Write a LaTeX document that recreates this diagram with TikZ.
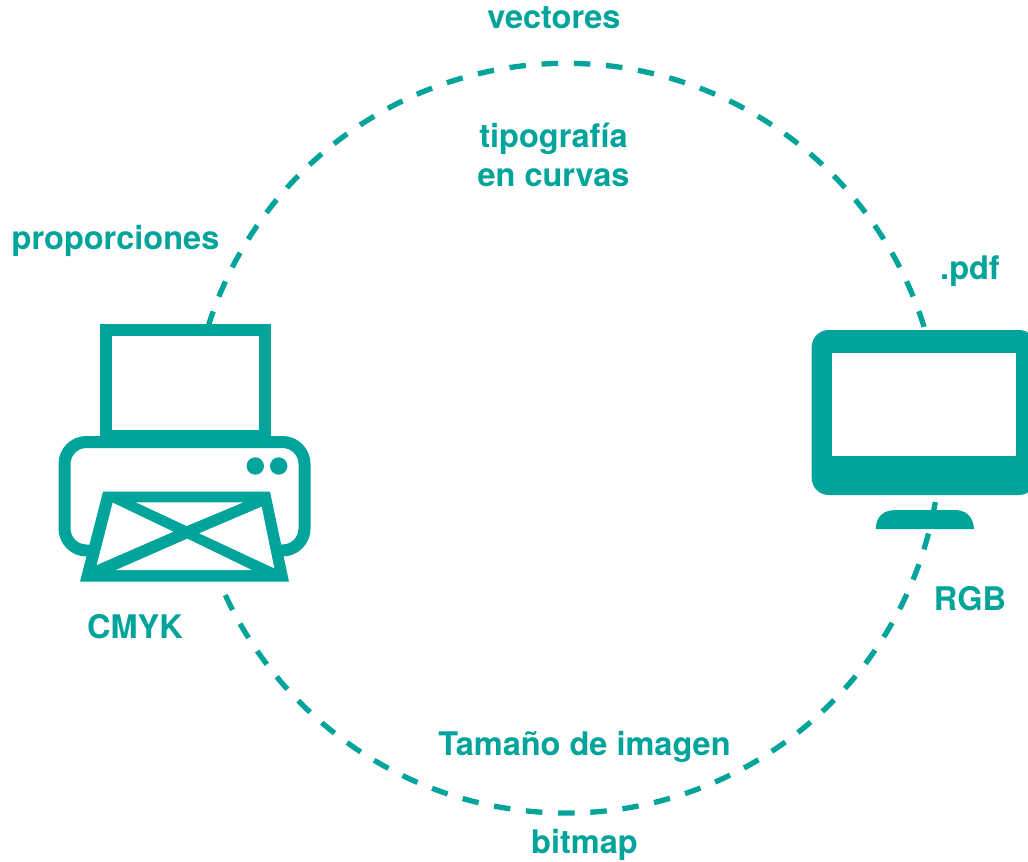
\documentclass[tikz,border=0pt]{standalone}
\usepackage{fontspec}
\setmainfont{TeX Gyre Heros}
\definecolor{teal1}{HTML}{00A49B}
\tikzset{
  lbl/.style={text=teal1,font=\fontsize{32.5}{39}\selectfont\bfseries,inner sep=0pt,align=center,anchor=center},
  dasharc/.style={draw=teal1,line width=5.3pt,dash pattern=on 16.5pt off 15.75pt},
  tstroke/.style={draw=teal1,line width=12pt},
  tfill/.style={fill=teal1,draw=none},
  wfill/.style={fill=white,draw=none}
}
\begin{document}
\begin{tikzpicture}[x=1pt,y=-1pt]
\useasboundingbox (0,0) rectangle (1028,862);
\fill[white] (0,0) rectangle (1028,862);
% dashed circle
\coordinate (printerTop) at (208.0,327.0);
\coordinate (monitorBase) at (935.3,502.0);
\draw[dasharc] (printerTop) arc[start angle=162.72,end angle=17.2,radius=375pt];
\draw[dasharc] (monitorBase) arc[start angle=-9.83,end angle=-155.3,radius=375pt];
% printer
\draw[tstroke] (105.5,330) rectangle (265,436);
\draw[tstroke,rounded corners=22pt] (64.5,442) rectangle (304.5,550.5);
\fill[tfill] (103,491.7) -- (270,491.7) -- (289,581.7) -- (80,581.7) -- cycle;
\fill[wfill] (136,502.3) -- (243.3,502.3) -- (186.7,526) -- cycle;
\fill[wfill] (112.7,502.7) -- (173.3,531.7) -- (96.7,565) -- cycle;
\fill[wfill] (261.7,506.7) -- (199.3,533.3) -- (274.3,568.3) -- cycle;
\fill[wfill] (187.3,538.7) -- (251.7,570) -- (116,570) -- cycle;
\fill[tfill] (255.3,466) circle[radius=8.7pt];
\fill[tfill] (278.7,466) circle[radius=8.7pt];
% monitor
\fill[tfill,rounded corners=17pt] (811.7,330) rectangle (1036,495);
\fill[wfill] (832.3,353.3) rectangle (1016,456);
\fill[tfill] (875.7,529) .. controls (876,516) and (884,510) .. (896,510) -- (954,510) .. controls (966,510) and (973,516) .. (974,529) -- cycle;
% labels
\node[lbl] (vec) at (554,18) {vectores};
\node[lbl] (tip) at (553.5,155) {tipografía\\en curvas};
\node[lbl] (pro) at (115.5,241) {proporciones};
\node[lbl] (pdf) at (970,271) {.pdf};
\node[lbl] (cmyk) at (135,627) {CMYK};
\node[lbl] (rgb) at (970,599) {RGB};
\node[lbl] (tam) at (584.5,747) {Tamaño de imagen};
\node[lbl] (bit) at (584.5,845) {bitmap};
\end{tikzpicture}
\end{document}
